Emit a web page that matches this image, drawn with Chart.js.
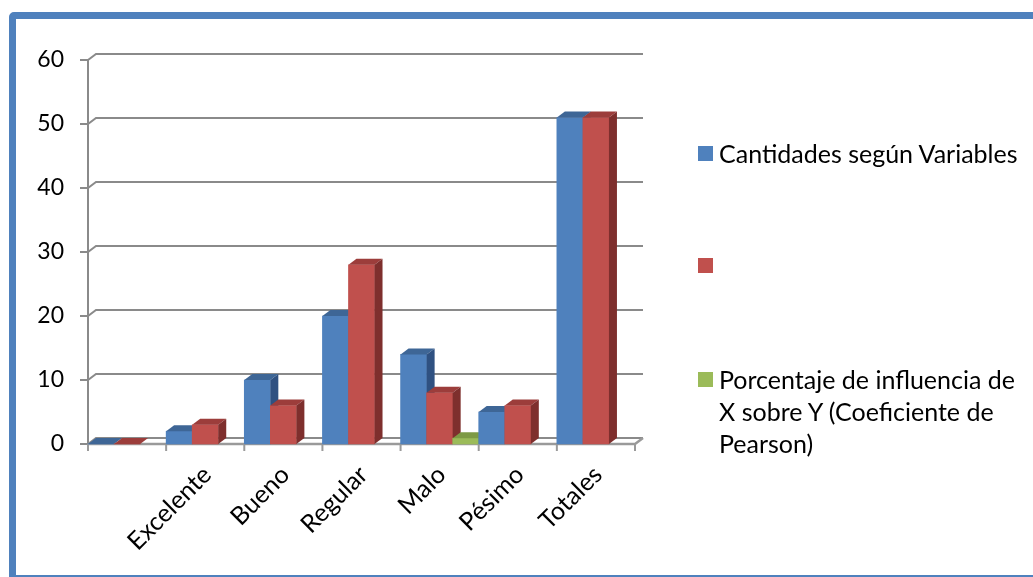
<!DOCTYPE html>
<html>
<head>
<meta charset="utf-8">
<script src="https://cdn.jsdelivr.net/npm/chart.js@4.4.1/dist/chart.umd.min.js"></script>
<style>
    html, body { margin: 0; padding: 0; background: #fff; overflow: hidden; }
    #wrap { position: relative; width: 1033px; height: 577px; }
    .frame {
        position: absolute; left: 9px; top: 12px; width: 1100px; height: 570px;
        box-sizing: border-box; border: 7px solid #4F81BD; border-radius: 5px;
    }
    #chart { position: absolute; left: 0; top: 0; }
    .legend-item {
        position: absolute; left: 698px; width: 330px;
        display: flex; align-items: flex-start;
        font-family: Lato, "Open Sans", sans-serif; font-size: 25px; line-height: 32px; color: #000;
    }
    .swatch { width: 15px; height: 15px; margin: 9px 6px 0 0; flex: none; }
    .legend-text { width: 300px; }
</style>
</head>
<body>
<div id="wrap">
    <div class="frame"></div>
    <canvas id="chart" width="1033" height="577"></canvas>
    <div id="legend"></div>
</div>
<script>
// データ
const categories = ['', 'Excelente', 'Bueno', 'Regular', 'Malo', 'Pésimo', 'Totales'];
const cantidades = [0, 2, 10, 20, 14, 5, 51];
const serieRoja = [0, 3, 6, 28, 8, 6, 51];
const pearson = [null, null, null, null, 0.9, null, null];
const seriesLabels = ['Cantidades según Variables', '', 'Porcentaje de influencia de X sobre Y (Coeficiente de Pearson)'];
const yMin = 0, yMax = 60, yStep = 10;

// 3D の奥行き
const DX = 8, DY = -6;
const FONT = 'Lato, "Open Sans", sans-serif';

/**
 * 背面の目盛線、床、軸を描く
 */
function drawWalls(chart) {
    const ctx = chart.ctx;
    const { left, right, top, bottom } = chart.chartArea;
    const yScale = chart.scales.y;
    const xScale = chart.scales.x;

    ctx.save();
    ctx.strokeStyle = '#8a8a8a';
    ctx.lineWidth = 2;

    // 横の目盛線 (背面)
    yScale.ticks.forEach(t => {
        const py = yScale.getPixelForValue(t.value);
        ctx.beginPath();
        ctx.moveTo(left - 8, py);
        ctx.lineTo(left, py);
        ctx.lineTo(left + DX, py + DY);
        ctx.lineTo(right + DX, py + DY);
        ctx.stroke();
    });

    // 縦軸
    ctx.beginPath();
    ctx.moveTo(left, top);
    ctx.lineTo(left, bottom);
    ctx.stroke();

    // 床 (手前の線)
    ctx.lineWidth = 2.5;
    ctx.strokeStyle = '#9a9a9a';
    ctx.beginPath();
    ctx.moveTo(left, bottom);
    ctx.lineTo(right, bottom);
    ctx.lineTo(right + DX, bottom + DY);
    ctx.stroke();

    // 横軸の目盛 (カテゴリの境界)
    ctx.lineWidth = 2;
    for (let i = 0; i <= categories.length; i++) {
        const px = xScale.getPixelForValue(i - 0.5);
        ctx.beginPath();
        ctx.moveTo(px, bottom);
        ctx.lineTo(px, bottom + 7);
        ctx.stroke();
    }
    ctx.restore();
}

/**
 * 棒の上面と側面
 */
function drawFaces(ctx, ds, bar) {
    const p = bar.getProps(['x', 'y', 'base', 'width'], true);
    const l = p.x - p.width / 2, r = p.x + p.width / 2;
    const t = p.y, b = p.base;

    // 上面
    ctx.fillStyle = ds.topColor;
    ctx.beginPath();
    ctx.moveTo(l, t);
    ctx.lineTo(r, t);
    ctx.lineTo(r + DX, t + DY);
    ctx.lineTo(l + DX, t + DY);
    ctx.closePath();
    ctx.fill();

    // 側面
    ctx.fillStyle = ds.sideColor;
    ctx.beginPath();
    ctx.moveTo(r, t);
    ctx.lineTo(r + DX, t + DY);
    ctx.lineTo(r + DX, b + DY);
    ctx.lineTo(r, b);
    ctx.closePath();
    ctx.fill();
}

// 左から右へ順に描く (奥の面が手前の棒に隠れるように)
const bar3d = {
    id: 'bar3d',
    beforeDatasetsDraw(chart) {
        const ctx = chart.ctx;
        drawWalls(chart);
        ctx.save();
        categories.forEach((c, i) => {
            chart.data.datasets.forEach((ds, d) => {
                if (ds.data[i] === null || ds.data[i] === undefined) return;
                const bar = chart.getDatasetMeta(d).data[i];
                bar.draw(ctx);
                drawFaces(ctx, ds, bar);
            });
        });
        ctx.restore();
        return false;
    }
};

const ctx = document.getElementById('chart').getContext('2d');
const chart = new Chart(ctx, {
    type: 'bar',
    data: {
        labels: categories,
        datasets: [
            {
                label: seriesLabels[0], data: cantidades,
                backgroundColor: '#4F81BD', topColor: '#3E6696', sideColor: '#2F5181'
            },
            {
                label: seriesLabels[1], data: serieRoja,
                backgroundColor: '#C0504D', topColor: '#9C3D3B', sideColor: '#7E2F2D'
            },
            {
                label: seriesLabels[2], data: pearson,
                backgroundColor: '#9BBB59', topColor: '#7D9A44', sideColor: '#6A863A'
            }
        ]
    },
    options: {
        responsive: false,
        animation: false,
        categoryPercentage: 1,
        barPercentage: 1,
        layout: { padding: { left: 0, top: 60, right: 398, bottom: 0 } },
        plugins: {
            legend: { display: false },
            tooltip: { enabled: false }
        },
        scales: {
            x: {
                grid: { display: false, drawTicks: false },
                border: { display: false },
                ticks: {
                    autoSkip: false,
                    maxRotation: 45,
                    minRotation: 45,
                    padding: 16,
                    labelOffset: 2,
                    color: '#000',
                    font: { family: FONT, size: 25 }
                },
                afterFit: scale => { scale.height = 133; }
            },
            y: {
                min: yMin,
                max: yMax,
                grid: { display: false, drawTicks: false },
                border: { display: false },
                ticks: {
                    stepSize: yStep,
                    padding: 24,
                    color: '#000',
                    font: { family: FONT, size: 23 }
                },
                afterFit: scale => { scale.width = 88; }
            }
        }
    },
    plugins: [bar3d]
});

// 凡例 (HTML)
const legendTops = [137, 249, 363];
const legendEl = document.getElementById('legend');
chart.data.datasets.forEach((ds, i) => {
    const item = document.createElement('div');
    item.className = 'legend-item';
    item.style.top = legendTops[i] + 'px';
    item.innerHTML = `<span class="swatch" style="background:${ds.backgroundColor}"></span><span class="legend-text"></span>`;
    item.querySelector('.legend-text').textContent = ds.label;
    legendEl.appendChild(item);
});
</script>
</body>
</html>
